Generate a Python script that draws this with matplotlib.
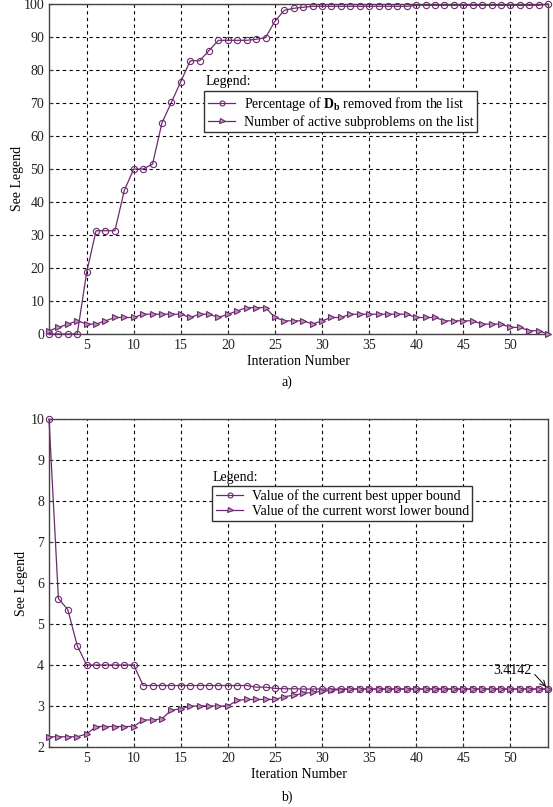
import matplotlib
matplotlib.use("Agg")
import matplotlib.pyplot as plt
import numpy as np

plt.rcParams['font.family'] = ['Liberation Serif', 'DejaVu Serif']
plt.rcParams['mathtext.fontset'] = 'custom'
plt.rcParams['mathtext.rm'] = 'Liberation Serif'
plt.rcParams['mathtext.bf'] = 'Liberation Serif:bold'
plt.rcParams['font.size'] = 10

iters = np.arange(1, 55)

# a) percentage removed / active subproblems
pct_removed = [0, 0, 0, 0, 18.7, 31.3, 31.3, 31.3, 43.5, 50,
               50, 51.5, 64, 70.2, 76.5, 82.8, 82.8, 85.9, 89, 89,
               89, 89, 89.3, 89.8, 94.8, 98.1, 98.7, 99] + [99.3] * 11 + [99.6] * 14 + [100]
active = [1, 2, 3, 4, 3, 3, 4, 5, 5, 5,
          6, 6, 6, 6, 6, 5, 6, 6, 5, 6,
          7, 8, 8, 8, 5, 4, 4, 4, 3, 4,
          5, 5, 6, 6, 6, 6, 6, 6, 6, 5,
          5, 5, 4, 4, 4, 4, 3, 3, 3, 2,
          2, 1, 1, 0]

# b) bounds
upper = [10, 5.62, 5.35, 4.47, 4, 4, 4, 4, 4, 4] + [3.5] * 12 + \
        [3.46, 3.46, 3.43, 3.42, 3.42] + [3.4142] * 27
lower = [2.25, 2.25, 2.25, 2.25, 2.32, 2.5, 2.5, 2.5, 2.5, 2.5,
         2.66, 2.66, 2.69, 2.9, 2.93, 3.0, 3.0, 3.0, 3.0, 3.0,
         3.14, 3.16, 3.16, 3.16, 3.16, 3.23, 3.26, 3.31, 3.33, 3.36,
         3.38, 3.40] + [3.4142] * 22

col = '#6e2a6e'
W, H = 553, 807
fig = plt.figure(figsize=(W / 100, H / 100), dpi=100)

def px_axes(left, top, right, bottom):
    return fig.add_axes([left / W, 1 - bottom / H, (right - left) / W, (bottom - top) / H])

def style(ax):
    ax.grid(True, color='black', linestyle=(0, (3, 3)), linewidth=0.8)
    ax.tick_params(direction='in', length=3, width=0.8, colors='#333333', labelcolor='#222222')
    for s in ax.spines.values():
        s.set_color('#444444')
        s.set_linewidth(1.0)
    ax.set_xlim(1, 54)
    ax.set_xticks(range(5, 55, 5))

def draw(ax, y1, y2, lab1, lab2):
    l1, = ax.plot(iters, y1, color=col, lw=0.9, marker='o', ms=4.5,
                  mfc='none', mec=col, mew=0.8, label=lab1, clip_on=False, zorder=3)
    l2, = ax.plot(iters, y2, color=col, lw=0.9, marker='>', ms=4.5,
                  mfc='#b890b8', mec=col, mew=0.8, label=lab2, clip_on=False, zorder=3)
    return l1, l2

# top panel
ax1 = px_axes(49, 4, 548, 334)
style(ax1)
draw(ax1, pct_removed, active,
     r'Percentage of $\mathbf{D_b}$ removed from the list',
     'Number of active subproblems on the list')
ax1.set_ylim(0, 100)
ax1.set_yticks(range(0, 101, 10))
ax1.set_xlabel('Interation Number', labelpad=2)
ax1.set_ylabel('See Legend')
ax1.yaxis.set_label_coords(-0.05, 0.47)
ax1.text(0.313, 0.764, 'Legend:', transform=ax1.transAxes, ha='left', va='center')
leg1 = ax1.legend(loc='upper left', bbox_to_anchor=(0.311, 0.735), fancybox=False,
                  framealpha=1, edgecolor='#333333', borderpad=0.25, labelspacing=0.15,
                  handlelength=2.0, handletextpad=0.6, borderaxespad=0, markerscale=0.8)
leg1.get_frame().set_linewidth(1.0)
fig.text(287 / W, 1 - 382 / H, 'a)', ha='center', va='center')

# bottom panel
ax2 = px_axes(49, 419, 548, 747)
style(ax2)
draw(ax2, upper, lower,
     'Value of the current best upper bound',
     'Value of the current worst lower bound')
ax2.set_ylim(2, 10)
ax2.set_yticks(range(2, 11))
ax2.set_xlabel('Iteration Number', labelpad=2)
ax2.set_ylabel('See Legend')
ax2.yaxis.set_label_coords(-0.042, 0.5)
ax2.text(0.328, 0.823, 'Legend:', transform=ax2.transAxes, ha='left', va='center')
leg2 = ax2.legend(loc='upper left', bbox_to_anchor=(0.327, 0.797), fancybox=False,
                  framealpha=1, edgecolor='#333333', borderpad=0.25, labelspacing=0.15,
                  handlelength=2.0, handletextpad=0.6, borderaxespad=0, markerscale=0.8)
leg2.get_frame().set_linewidth(1.0)
ax2.annotate('3.4142', xy=(54, upper[-1]), xytext=(52.2, 3.87), ha='right', va='center',
             arrowprops=dict(arrowstyle='->', color='black', lw=0.7, shrinkA=1, shrinkB=2,
                             relpos=(1, 0.5)))
fig.text(287 / W, 1 - 797 / H, 'b)', ha='center', va='center')

fig.savefig('out.png', dpi=100)
